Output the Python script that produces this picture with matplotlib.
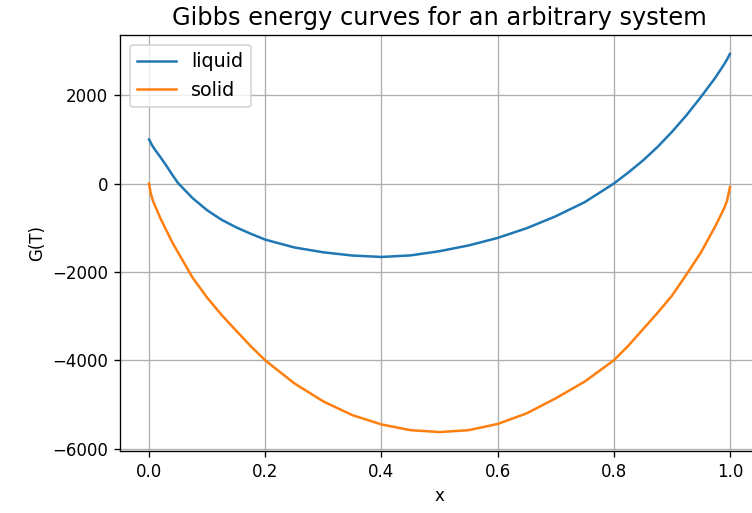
import matplotlib
matplotlib.use("Agg")
import matplotlib.pyplot as plt

# values
x_liquid = [0.0, 0.005, 0.01, 0.02, 0.03, 0.04, 0.05, 0.075, 0.1, 0.125, 0.15, 0.175,
            0.2, 0.25, 0.3, 0.35, 0.4, 0.45, 0.5, 0.55, 0.6, 0.65, 0.7, 0.75,
            0.8, 0.825, 0.85, 0.875, 0.9, 0.925, 0.95, 0.975, 0.99, 0.995, 1.0]
g_liquid = [1000, 870, 770, 590, 400, 200, 10, -330, -604, -820, -990, -1135,
            -1268, -1445, -1555, -1628, -1660, -1625, -1530, -1400, -1230, -1010, -740, -420,
            0, 250, 520, 825, 1168, 1545, 1960, 2400, 2700, 2810, 2935]

x_solid = [0.0, 0.0025, 0.005, 0.0075, 0.02, 0.04, 0.05, 0.075, 0.1, 0.125, 0.15, 0.175,
           0.2, 0.25, 0.3, 0.35, 0.4, 0.45, 0.5, 0.55, 0.6, 0.65, 0.7, 0.75,
           0.8, 0.825, 0.85, 0.875, 0.9, 0.925, 0.95, 0.975, 0.99, 0.995, 1.0]
g_solid = [0, -200, -320, -416, -800, -1330, -1560, -2130, -2580, -2975, -3330, -3680,
           -4000, -4520, -4930, -5240, -5450, -5580, -5623, -5580, -5440, -5200, -4860, -4480,
           -4000, -3670, -3300, -2930, -2540, -2060, -1560, -960, -560, -390, -80]

fig = plt.figure(figsize=(752/120, 513/120), dpi=120)
ax = fig.add_axes([0.1596, 0.1209, 0.8497, 0.8109])
ax.plot(x_liquid, g_liquid, label='liquid')
ax.plot(x_solid, g_solid, label='solid')
ax.set_title('Gibbs energy curves for an arbitrary system', fontsize=14.5)
ax.set_xlabel('x')
ax.set_ylabel('G(T)')
ax.grid(True)
ax.legend(loc='upper left', fontsize=11.5)
fig.savefig('out.png', dpi=120)
